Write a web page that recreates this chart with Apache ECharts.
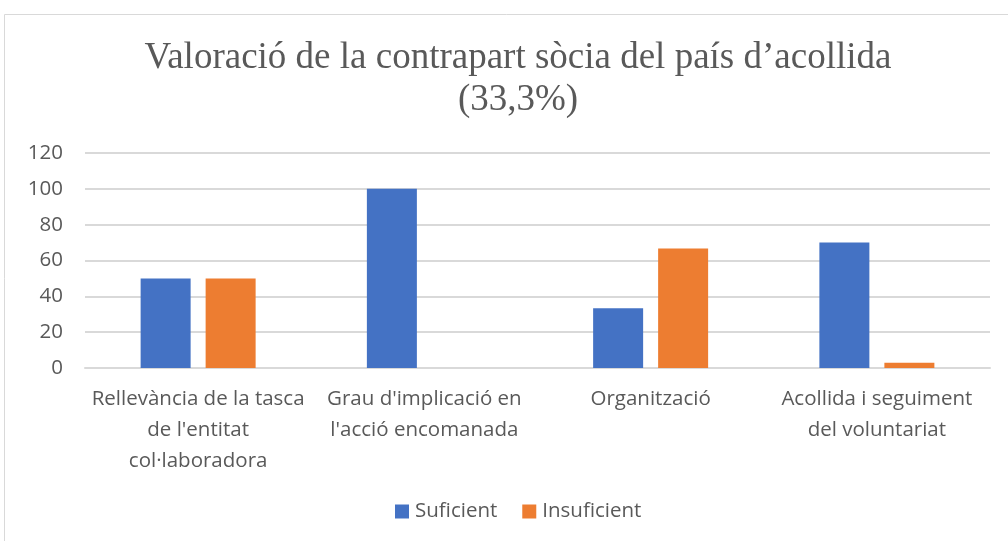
<!DOCTYPE html>
<html>
<head>
<meta charset="utf-8">
<script src="https://cdn.jsdelivr.net/npm/echarts@6/dist/echarts.min.js"></script>
<style>
  html, body { margin: 0; padding: 0; background: #fff; }
  #chart { width: 1008px; height: 541px; }
</style>
</head>
<body>
<div id="chart"></div>
<script>
var categories = [
  "Rellevància de la tasca\nde l'entitat\ncol·laboradora",
  "Grau d'implicació en\nl'acció encomanada",
  "Organització",
  "Acollida i seguiment\ndel voluntariat"
];
var suficient = [50, 100, 33.3, 70];
var insuficient = [50, 0, 66.7, 3];
var yTicks = [0, 20, 40, 60, 80, 100, 120];

var myChart = echarts.init(document.getElementById('chart'));
var textColor = '#595959';

var option = {
  animation: false,
  title: {
    text: 'Valoració de la contrapart sòcia del país d’acollida\n(33,3%)',
    left: 513,
    textAlign: 'center',
    top: 32,
    textStyle: {
      fontFamily: 'Liberation Serif',
      fontWeight: 'normal',
      fontSize: 37,
      lineHeight: 42,
      color: textColor
    }
  },
  graphic: [{
    type: 'rect',
    shape: { x: 4.5, y: 14.5, width: 1100, height: 600 },
    style: { fill: 'none', stroke: '#d9d9d9', lineWidth: 1 },
    silent: true
  }],
  grid: { left: 85, right: 18, top: 153, bottom: 173 },
  legend: {
    left: 390,
    bottom: 14,
    itemWidth: 14,
    itemHeight: 14,
    itemGap: 25,
    icon: 'rect',
    textStyle: { fontFamily: 'Open Sans', fontSize: 20.5, color: textColor, padding: [0, 0, 0, 1] },
    data: ['Suficient', 'Insuficient']
  },
  xAxis: {
    type: 'category',
    data: categories,
    axisTick: { show: false },
    axisLine: { lineStyle: { color: '#d9d9d9', width: 2 } },
    axisLabel: {
      fontFamily: 'Open Sans',
      fontSize: 20.5,
      lineHeight: 31,
      color: textColor,
      margin: 16,
      interval: 0
    }
  },
  yAxis: {
    type: 'value',
    min: 0,
    max: yTicks[yTicks.length - 1],
    interval: 20,
    axisLine: { show: false },
    axisTick: { show: false },
    splitLine: { lineStyle: { color: '#d9d9d9', width: 2 } },
    axisLabel: {
      fontFamily: 'Open Sans',
      fontSize: 20.5,
      color: textColor,
      margin: 22
    }
  },
  series: [
    {
      name: 'Suficient',
      type: 'bar',
      data: suficient,
      barWidth: 50,
      barGap: '30%',
      itemStyle: { color: '#4472c4' }
    },
    {
      name: 'Insuficient',
      type: 'bar',
      data: insuficient,
      barWidth: 50,
      itemStyle: { color: '#ed7d31' }
    }
  ]
};

myChart.setOption(option);
</script>
</body>
</html>
